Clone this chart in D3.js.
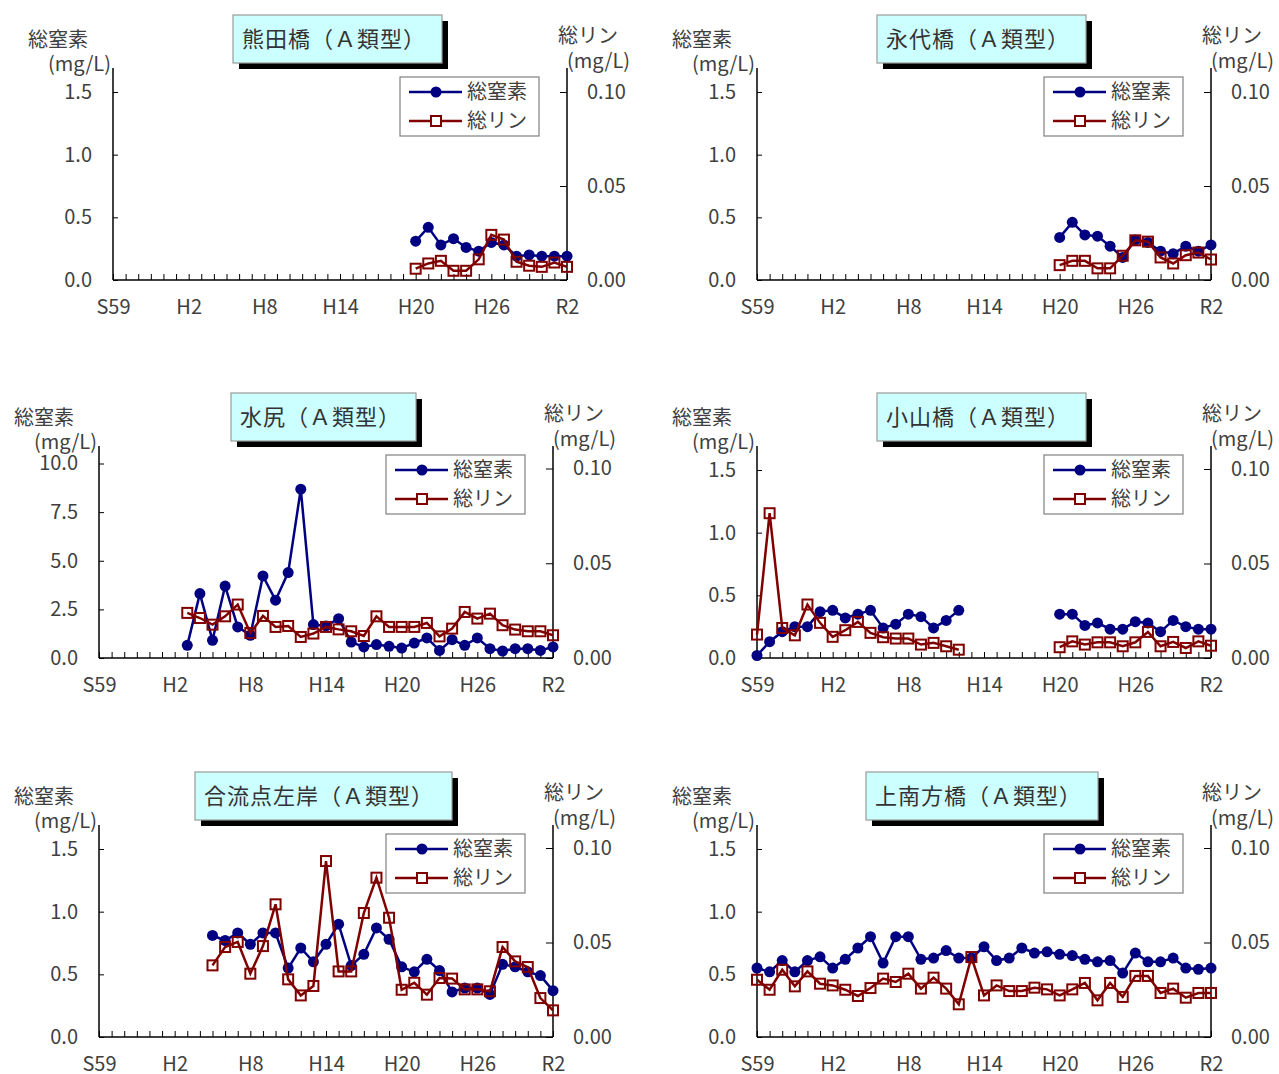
<!DOCTYPE html>
<html><head><meta charset="utf-8">
<script src="https://cdn.jsdelivr.net/npm/d3@7"></script>
<style>body{margin:0;background:#fff}svg{display:block}text{font-family:"Noto Sans CJK JP","Noto Sans",sans-serif}</style>
</head><body>
<script>
// ---- data ----
const years = d3.range(1984, 2021);              // S59 .. R2
const xTickLabels = ["S59","H2","H8","H14","H20","H26","R2"];
const xTickYears = [1984,1990,1996,2002,2008,2014,2020];
const seriesNames = ["総窒素","総リン"];
const stationNames = ["熊田橋（Ａ類型）","永代橋（Ａ類型）","水尻（Ａ類型）","小山橋（Ａ類型）","合流点左岸（Ａ類型）","上南方橋（Ａ類型）"];

// 熊田橋 2008-2020
const kumataStart = 2008;
const kumataTN = [0.31,0.42,0.28,0.33,0.26,0.23,0.30,0.28,0.19,0.20,0.19,0.19,0.19];
const kumataTP = [0.006,0.0088,0.0102,0.0049,0.0049,0.011,0.024,0.0215,0.0097,0.0076,0.007,0.0093,0.007];
// 永代橋 2008-2020
const eitaiStart = 2008;
const eitaiTN = [0.34,0.46,0.36,0.35,0.27,0.18,0.32,0.30,0.23,0.21,0.27,0.23,0.28];
const eitaiTP = [0.0079,0.0102,0.0102,0.0062,0.0062,0.0129,0.0211,0.0204,0.012,0.0088,0.0132,0.0146,0.0109];
// 水尻 1991-2020
const mizushiriStart = 1991;
const mizushiriTN = [0.65,3.31,0.91,3.70,1.60,1.17,4.22,2.97,4.39,8.68,1.72,1.65,2.02,0.82,0.57,0.69,0.60,0.51,0.77,1.03,0.39,0.94,0.65,1.03,0.48,0.36,0.48,0.48,0.39,0.57];
const mizushiriTP = [0.0238,0.0211,0.0176,0.022,0.0282,0.0132,0.0222,0.0164,0.0169,0.0111,0.0129,0.0164,0.0151,0.0141,0.0116,0.022,0.0164,0.0164,0.0164,0.0185,0.0114,0.0155,0.0243,0.0208,0.0234,0.0173,0.015,0.0141,0.0141,0.012];
// 小山橋 1984-2020 (no data 2001-2007)
const koyamaStart = 1984;
const koyamaTN = [0.02,0.13,0.21,0.25,0.25,0.37,0.38,0.32,0.35,0.38,0.24,0.27,0.35,0.33,0.24,0.30,0.38,null,null,null,null,null,null,null,0.35,0.35,0.26,0.28,0.23,0.23,0.29,0.28,0.21,0.30,0.25,0.23,0.23];
const koyamaTP = [0.0124,0.0766,0.0159,0.012,0.0283,0.0186,0.0112,0.0147,0.0191,0.0133,0.011,0.0103,0.0103,0.0071,0.008,0.0062,0.0044,null,null,null,null,null,null,null,0.0057,0.0088,0.0071,0.0083,0.0083,0.0062,0.0083,0.0138,0.0062,0.0085,0.0053,0.0088,0.0065];
// 合流点左岸 1993-2020
const gouryuStart = 1993;
const gouryuTN = [0.81,0.77,0.83,0.74,0.83,0.83,0.55,0.71,0.60,0.74,0.90,0.57,0.66,0.87,0.78,0.56,0.52,0.62,0.53,0.36,0.39,0.39,0.34,0.58,0.56,0.52,0.49,0.37];
const gouryuTP = [0.0379,0.0476,0.0503,0.0335,0.0481,0.0702,0.0305,0.022,0.027,0.0931,0.0347,0.0347,0.0656,0.0843,0.0631,0.025,0.0287,0.0224,0.0312,0.0309,0.0252,0.0252,0.0242,0.0476,0.04,0.037,0.0206,0.0141];
// 上南方橋 1984-2020
const kaminabeStart = 1984;
const kaminabeTN = [0.55,0.52,0.61,0.52,0.61,0.64,0.55,0.62,0.71,0.80,0.59,0.80,0.80,0.62,0.63,0.69,0.63,0.63,0.72,0.61,0.63,0.71,0.67,0.68,0.66,0.65,0.62,0.60,0.61,0.51,0.67,0.60,0.60,0.63,0.55,0.54,0.55];
const kaminabeTP = [0.0303,0.025,0.0356,0.0268,0.0347,0.0282,0.0273,0.025,0.0217,0.0259,0.0309,0.0291,0.0335,0.0256,0.0314,0.0256,0.0173,0.0423,0.022,0.0273,0.0243,0.0243,0.0261,0.0252,0.022,0.0252,0.0286,0.0194,0.0286,0.0212,0.0323,0.0323,0.0233,0.0256,0.0208,0.0233,0.0233];

const ticksLeftSmall = [0, 0.5, 1.0, 1.5];
const ticksLeftLarge = [0, 2.5, 5.0, 7.5, 10.0];
const ticksRight = [0, 0.05, 0.10];

// ---- layout ----
const panels = [
  {name:stationNames[0], start:kumataStart, tn:kumataTN, tp:kumataTP, ticksL:ticksLeftSmall, axL:113, axR:567, y0:280, hL:188, hR:188, title:[233,209], legendX:400},
  {name:stationNames[1], start:eitaiStart, tn:eitaiTN, tp:eitaiTP, ticksL:ticksLeftSmall, axL:757, axR:1211, y0:280, hL:188, hR:188, title:[877,209], legendX:1044},
  {name:stationNames[2], start:mizushiriStart, tn:mizushiriTN, tp:mizushiriTP, ticksL:ticksLeftLarge, axL:99, axR:553, y0:658, hL:194.5, hR:189.5, title:[231,185], legendX:386},
  {name:stationNames[3], start:koyamaStart, tn:koyamaTN, tp:koyamaTP, ticksL:ticksLeftSmall, axL:757, axR:1211, y0:658, hL:188, hR:189, title:[877,209], legendX:1044},
  {name:stationNames[4], start:gouryuStart, tn:gouryuTN, tp:gouryuTP, ticksL:ticksLeftSmall, axL:99, axR:553, y0:1037, hL:188, hR:189, title:[195,257], legendX:386},
  {name:stationNames[5], start:kaminabeStart, tn:kaminabeTN, tp:kaminabeTP, ticksL:ticksLeftSmall, axL:757, axR:1211, y0:1037, hL:188, hR:189, title:[866,232], legendX:1044}
];

const BLUE = "#000080", RED = "#800000", TXT = "#404040";

const svg = d3.select("body").append("svg").attr("width",1279).attr("height",1074);
svg.append("rect").attr("width",1279).attr("height",1074).attr("fill","#fff");

panels.forEach(p => {
  const g = svg.append("g");
  const x = d3.scaleLinear().domain([years[0], years[years.length-1]]).range([p.axL, p.axR]);
  const maxL = d3.max(p.ticksL);
  const yL = d3.scaleLinear().domain([0, maxL]).range([p.y0, p.y0 - p.hL]);
  const yR = d3.scaleLinear().domain([0, 0.10]).range([p.y0, p.y0 - p.hR]);
  const axTop = p.y0 - 212;

  // title box
  const [tx, tw] = p.title, ty = p.y0 - 265, th = 48;
  g.append("rect").attr("x",tx+6).attr("y",ty+6).attr("width",tw).attr("height",th).attr("fill","#000");
  g.append("rect").attr("x",tx).attr("y",ty).attr("width",tw).attr("height",th).attr("fill","#ccffff").attr("stroke","#9a9a9a").attr("stroke-width",1.2);
  g.append("text").attr("x",tx+9).attr("y",ty+th/2).attr("dy","0.36em").attr("font-size",22).attr("letter-spacing",1).attr("fill","#333").text(p.name);

  // axis titles
  g.append("text").attr("x",p.axL-25).attr("y",p.y0-240).attr("dy","0.36em").attr("text-anchor","end").attr("font-size",20).attr("fill",TXT).text(seriesNames[0]);
  g.append("text").attr("x",p.axL-2).attr("y",p.y0-216).attr("dy","0.36em").attr("text-anchor","end").attr("font-size",20).attr("fill",TXT).text("(mg/L)");
  g.append("text").attr("x",p.axR-9).attr("y",p.y0-244).attr("dy","0.36em").attr("font-size",20).attr("fill",TXT).text(seriesNames[1]);
  g.append("text").attr("x",p.axR).attr("y",p.y0-219).attr("dy","0.36em").attr("font-size",20).attr("fill",TXT).text("(mg/L)");

  // left axis
  const aL = g.append("g").attr("transform",`translate(${p.axL},0)`)
    .call(d3.axisLeft(yL).tickValues(p.ticksL).tickFormat(d3.format(".1f")).tickSizeInner(-5).tickSizeOuter(0).tickPadding(21));
  // right axis
  const aR = g.append("g").attr("transform",`translate(${p.axR},0)`)
    .call(d3.axisRight(yR).tickValues(ticksRight).tickFormat(d3.format(".2f")).tickSizeInner(-7).tickSizeOuter(0).tickPadding(20));
  // x axis
  const aX = g.append("g").attr("transform",`translate(0,${p.y0})`)
    .call(d3.axisBottom(x).tickValues(years).tickFormat(d => { const i = xTickYears.indexOf(d); return i >= 0 ? xTickLabels[i] : ""; })
      .tickSizeInner(-6).tickSizeOuter(0).tickPadding(20));
  [aL, aR, aX].forEach(a => {
    a.select(".domain").remove();
    a.selectAll(".tick line").attr("stroke","#000").attr("stroke-width",1);
    a.selectAll("text").attr("font-size",20).attr("fill",TXT).attr("font-family",'"Noto Sans CJK JP","Noto Sans",sans-serif');
  });
  // axis lines
  g.append("line").attr("x1",p.axL).attr("x2",p.axL).attr("y1",p.y0).attr("y2",axTop).attr("stroke","#000").attr("stroke-width",1.5);
  g.append("line").attr("x1",p.axR).attr("x2",p.axR).attr("y1",p.y0).attr("y2",axTop).attr("stroke","#000").attr("stroke-width",1.5);
  g.append("line").attr("x1",p.axL).attr("x2",p.axR).attr("y1",p.y0).attr("y2",p.y0).attr("stroke","#000").attr("stroke-width",1.5);

  // data
  const tnPts = p.tn.map((v,i) => ({yr:p.start+i, v}));
  const tpPts = p.tp.map((v,i) => ({yr:p.start+i, v}));
  const lineL = d3.line().defined(d => d.v != null).x(d => x(d.yr)).y(d => yL(d.v));
  const lineR = d3.line().defined(d => d.v != null).x(d => x(d.yr)).y(d => yR(d.v));

  g.append("path").attr("d",lineL(tnPts)).attr("fill","none").attr("stroke",BLUE).attr("stroke-width",2.5);
  g.selectAll(".tn").data(tnPts.filter(d => d.v != null)).join("circle")
    .attr("cx",d => x(d.yr)).attr("cy",d => yL(d.v)).attr("r",5.5).attr("fill",BLUE);
  g.append("path").attr("d",lineR(tpPts)).attr("fill","none").attr("stroke",RED).attr("stroke-width",2.5);
  g.selectAll(".tp").data(tpPts.filter(d => d.v != null)).join("rect")
    .attr("x",d => x(d.yr)-5).attr("y",d => yR(d.v)-5).attr("width",10).attr("height",10)
    .attr("fill","none").attr("stroke",RED).attr("stroke-width",2);

  // legend
  const lx = p.legendX, ly = p.y0 - 203;
  const lg = g.append("g");
  lg.append("rect").attr("x",lx).attr("y",ly).attr("width",139).attr("height",59).attr("fill","#fff").attr("stroke","#808080").attr("stroke-width",1.2);
  [[BLUE,"c",15],[RED,"s",44]].forEach(([c,t,dy],i) => {
    const yy = ly + dy;
    lg.append("line").attr("x1",lx+9).attr("x2",lx+62).attr("y1",yy).attr("y2",yy).attr("stroke",c).attr("stroke-width",2.5);
    if (t === "c") lg.append("circle").attr("cx",lx+36).attr("cy",yy).attr("r",5.5).attr("fill",c);
    else lg.append("rect").attr("x",lx+31).attr("y",yy-5).attr("width",10).attr("height",10).attr("fill","#fff").attr("stroke",c).attr("stroke-width",2);
    lg.append("text").attr("x",lx+67).attr("y",yy).attr("dy","0.36em").attr("font-size",20).attr("fill",TXT).text(seriesNames[i]);
  });
});
</script>
</body></html>
